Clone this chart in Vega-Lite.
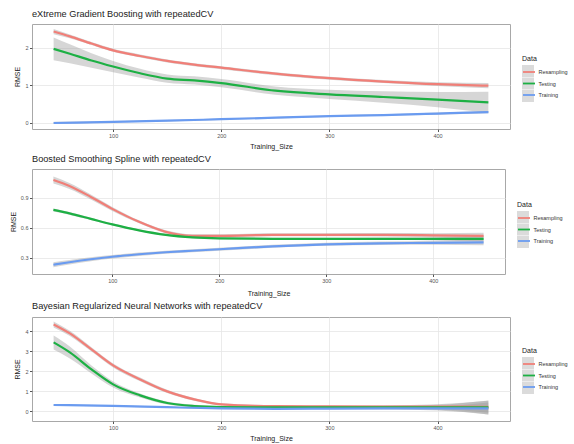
{
  "$schema": "https://vega.github.io/schema/vega-lite/v6.json",
  "padding": {"left": 8, "top": 9, "right": 2, "bottom": 2},
  "background": "white",
  "config": {
    "font": "Liberation Sans",
    "view": {"stroke": "#a8a8a8", "strokeWidth": 1},
    "title": {"anchor": "start", "frame": "group", "fontSize": 9.2, "fontWeight": "normal", "color": "#222222", "offset": 5},
    "axis": {"labelFontSize": 5.5, "labelColor": "#555555", "tickColor": "#555555", "tickSize": 2.5, "labelPadding": 1.5, "domain": false, "gridColor": "#e6e6e6", "gridWidth": 0.8, "titleFontSize": 7, "titleFontWeight": "normal", "titleColor": "#222222", "titlePadding": 4},
    "legend": {"titleFontSize": 7, "titleFontWeight": "normal", "titleColor": "#222222", "titlePadding": 3, "labelFontSize": 5.5, "labelColor": "#333333", "labelOffset": 2.5, "symbolSize": 144, "rowPadding": 0.5, "orient": "none"}
  },
  "resolve": {"scale": {"color": "independent", "fill": "independent"}, "legend": {"color": "independent", "fill": "independent"}},
  "datasets": {
    "xgb": [
      {"Training_Size": 45, "Data": "Resampling", "RMSE": 2.43, "lo": 2.36, "hi": 2.50},
      {"Training_Size": 60, "Data": "Resampling", "RMSE": 2.30, "lo": 2.25, "hi": 2.35},
      {"Training_Size": 80, "Data": "Resampling", "RMSE": 2.11, "lo": 2.07, "hi": 2.15},
      {"Training_Size": 100, "Data": "Resampling", "RMSE": 1.93, "lo": 1.89, "hi": 1.97},
      {"Training_Size": 125, "Data": "Resampling", "RMSE": 1.78, "lo": 1.74, "hi": 1.82},
      {"Training_Size": 150, "Data": "Resampling", "RMSE": 1.65, "lo": 1.61, "hi": 1.69},
      {"Training_Size": 175, "Data": "Resampling", "RMSE": 1.55, "lo": 1.51, "hi": 1.59},
      {"Training_Size": 200, "Data": "Resampling", "RMSE": 1.47, "lo": 1.43, "hi": 1.51},
      {"Training_Size": 250, "Data": "Resampling", "RMSE": 1.31, "lo": 1.27, "hi": 1.35},
      {"Training_Size": 300, "Data": "Resampling", "RMSE": 1.19, "lo": 1.15, "hi": 1.23},
      {"Training_Size": 350, "Data": "Resampling", "RMSE": 1.10, "lo": 1.06, "hi": 1.14},
      {"Training_Size": 400, "Data": "Resampling", "RMSE": 1.03, "lo": 0.98, "hi": 1.08},
      {"Training_Size": 447, "Data": "Resampling", "RMSE": 0.99, "lo": 0.92, "hi": 1.06},
      {"Training_Size": 45, "Data": "Testing", "RMSE": 1.97, "lo": 1.67, "hi": 2.27},
      {"Training_Size": 60, "Data": "Testing", "RMSE": 1.84, "lo": 1.59, "hi": 2.09},
      {"Training_Size": 80, "Data": "Testing", "RMSE": 1.66, "lo": 1.47, "hi": 1.85},
      {"Training_Size": 100, "Data": "Testing", "RMSE": 1.50, "lo": 1.35, "hi": 1.65},
      {"Training_Size": 125, "Data": "Testing", "RMSE": 1.32, "lo": 1.20, "hi": 1.44},
      {"Training_Size": 150, "Data": "Testing", "RMSE": 1.18, "lo": 1.07, "hi": 1.29},
      {"Training_Size": 175, "Data": "Testing", "RMSE": 1.13, "lo": 1.02, "hi": 1.24},
      {"Training_Size": 200, "Data": "Testing", "RMSE": 1.06, "lo": 0.95, "hi": 1.17},
      {"Training_Size": 250, "Data": "Testing", "RMSE": 0.86, "lo": 0.75, "hi": 0.97},
      {"Training_Size": 300, "Data": "Testing", "RMSE": 0.76, "lo": 0.64, "hi": 0.88},
      {"Training_Size": 350, "Data": "Testing", "RMSE": 0.69, "lo": 0.54, "hi": 0.84},
      {"Training_Size": 400, "Data": "Testing", "RMSE": 0.62, "lo": 0.42, "hi": 0.82},
      {"Training_Size": 447, "Data": "Testing", "RMSE": 0.55, "lo": 0.27, "hi": 0.83},
      {"Training_Size": 45, "Data": "Training", "RMSE": 0.00, "lo": -0.03, "hi": 0.03},
      {"Training_Size": 100, "Data": "Training", "RMSE": 0.03, "lo": 0.01, "hi": 0.05},
      {"Training_Size": 150, "Data": "Training", "RMSE": 0.06, "lo": 0.04, "hi": 0.08},
      {"Training_Size": 200, "Data": "Training", "RMSE": 0.10, "lo": 0.08, "hi": 0.12},
      {"Training_Size": 250, "Data": "Training", "RMSE": 0.14, "lo": 0.12, "hi": 0.16},
      {"Training_Size": 300, "Data": "Training", "RMSE": 0.18, "lo": 0.16, "hi": 0.20},
      {"Training_Size": 350, "Data": "Training", "RMSE": 0.21, "lo": 0.19, "hi": 0.23},
      {"Training_Size": 400, "Data": "Training", "RMSE": 0.25, "lo": 0.22, "hi": 0.28},
      {"Training_Size": 447, "Data": "Training", "RMSE": 0.29, "lo": 0.26, "hi": 0.32}
    ],
    "bss": [
      {"Training_Size": 45, "Data": "Resampling", "RMSE": 1.08, "lo": 1.045, "hi": 1.115},
      {"Training_Size": 60, "Data": "Resampling", "RMSE": 1.02, "lo": 0.99, "hi": 1.05},
      {"Training_Size": 80, "Data": "Resampling", "RMSE": 0.91, "lo": 0.885, "hi": 0.935},
      {"Training_Size": 100, "Data": "Resampling", "RMSE": 0.79, "lo": 0.77, "hi": 0.81},
      {"Training_Size": 125, "Data": "Resampling", "RMSE": 0.66, "lo": 0.645, "hi": 0.675},
      {"Training_Size": 150, "Data": "Resampling", "RMSE": 0.56, "lo": 0.545, "hi": 0.575},
      {"Training_Size": 175, "Data": "Resampling", "RMSE": 0.52, "lo": 0.505, "hi": 0.535},
      {"Training_Size": 200, "Data": "Resampling", "RMSE": 0.52, "lo": 0.505, "hi": 0.535},
      {"Training_Size": 250, "Data": "Resampling", "RMSE": 0.53, "lo": 0.515, "hi": 0.545},
      {"Training_Size": 300, "Data": "Resampling", "RMSE": 0.53, "lo": 0.515, "hi": 0.545},
      {"Training_Size": 350, "Data": "Resampling", "RMSE": 0.53, "lo": 0.513, "hi": 0.547},
      {"Training_Size": 400, "Data": "Resampling", "RMSE": 0.525, "lo": 0.505, "hi": 0.545},
      {"Training_Size": 447, "Data": "Resampling", "RMSE": 0.52, "lo": 0.49, "hi": 0.55},
      {"Training_Size": 45, "Data": "Testing", "RMSE": 0.78, "lo": 0.765, "hi": 0.795},
      {"Training_Size": 60, "Data": "Testing", "RMSE": 0.745, "lo": 0.732, "hi": 0.758},
      {"Training_Size": 80, "Data": "Testing", "RMSE": 0.69, "lo": 0.678, "hi": 0.702},
      {"Training_Size": 100, "Data": "Testing", "RMSE": 0.635, "lo": 0.625, "hi": 0.645},
      {"Training_Size": 125, "Data": "Testing", "RMSE": 0.575, "lo": 0.565, "hi": 0.585},
      {"Training_Size": 150, "Data": "Testing", "RMSE": 0.53, "lo": 0.52, "hi": 0.54},
      {"Training_Size": 175, "Data": "Testing", "RMSE": 0.505, "lo": 0.495, "hi": 0.515},
      {"Training_Size": 200, "Data": "Testing", "RMSE": 0.495, "lo": 0.485, "hi": 0.505},
      {"Training_Size": 250, "Data": "Testing", "RMSE": 0.49, "lo": 0.48, "hi": 0.50},
      {"Training_Size": 300, "Data": "Testing", "RMSE": 0.49, "lo": 0.48, "hi": 0.50},
      {"Training_Size": 350, "Data": "Testing", "RMSE": 0.49, "lo": 0.478, "hi": 0.502},
      {"Training_Size": 400, "Data": "Testing", "RMSE": 0.49, "lo": 0.475, "hi": 0.505},
      {"Training_Size": 447, "Data": "Testing", "RMSE": 0.49, "lo": 0.465, "hi": 0.515},
      {"Training_Size": 45, "Data": "Training", "RMSE": 0.23, "lo": 0.205, "hi": 0.255},
      {"Training_Size": 60, "Data": "Training", "RMSE": 0.255, "lo": 0.233, "hi": 0.277},
      {"Training_Size": 80, "Data": "Training", "RMSE": 0.285, "lo": 0.265, "hi": 0.305},
      {"Training_Size": 100, "Data": "Training", "RMSE": 0.31, "lo": 0.292, "hi": 0.328},
      {"Training_Size": 125, "Data": "Training", "RMSE": 0.335, "lo": 0.318, "hi": 0.352},
      {"Training_Size": 150, "Data": "Training", "RMSE": 0.355, "lo": 0.339, "hi": 0.371},
      {"Training_Size": 175, "Data": "Training", "RMSE": 0.37, "lo": 0.355, "hi": 0.385},
      {"Training_Size": 200, "Data": "Training", "RMSE": 0.385, "lo": 0.37, "hi": 0.40},
      {"Training_Size": 250, "Data": "Training", "RMSE": 0.415, "lo": 0.40, "hi": 0.43},
      {"Training_Size": 300, "Data": "Training", "RMSE": 0.435, "lo": 0.42, "hi": 0.45},
      {"Training_Size": 350, "Data": "Training", "RMSE": 0.445, "lo": 0.428, "hi": 0.462},
      {"Training_Size": 400, "Data": "Training", "RMSE": 0.45, "lo": 0.43, "hi": 0.47},
      {"Training_Size": 447, "Data": "Training", "RMSE": 0.455, "lo": 0.425, "hi": 0.485}
    ],
    "brnn": [
      {"Training_Size": 45, "Data": "Resampling", "RMSE": 4.35, "lo": 4.2, "hi": 4.5},
      {"Training_Size": 60, "Data": "Resampling", "RMSE": 3.9, "lo": 3.77, "hi": 4.03},
      {"Training_Size": 80, "Data": "Resampling", "RMSE": 3.1, "lo": 2.99, "hi": 3.21},
      {"Training_Size": 100, "Data": "Resampling", "RMSE": 2.3, "lo": 2.2, "hi": 2.4},
      {"Training_Size": 125, "Data": "Resampling", "RMSE": 1.6, "lo": 1.51, "hi": 1.69},
      {"Training_Size": 150, "Data": "Resampling", "RMSE": 1.0, "lo": 0.92, "hi": 1.08},
      {"Training_Size": 175, "Data": "Resampling", "RMSE": 0.6, "lo": 0.53, "hi": 0.67},
      {"Training_Size": 200, "Data": "Resampling", "RMSE": 0.35, "lo": 0.29, "hi": 0.41},
      {"Training_Size": 250, "Data": "Resampling", "RMSE": 0.26, "lo": 0.21, "hi": 0.31},
      {"Training_Size": 300, "Data": "Resampling", "RMSE": 0.25, "lo": 0.2, "hi": 0.3},
      {"Training_Size": 350, "Data": "Resampling", "RMSE": 0.24, "lo": 0.17, "hi": 0.31},
      {"Training_Size": 400, "Data": "Resampling", "RMSE": 0.24, "lo": 0.12, "hi": 0.36},
      {"Training_Size": 447, "Data": "Resampling", "RMSE": 0.23, "lo": -0.07, "hi": 0.53},
      {"Training_Size": 45, "Data": "Testing", "RMSE": 3.45, "lo": 3.1, "hi": 3.8},
      {"Training_Size": 60, "Data": "Testing", "RMSE": 2.95, "lo": 2.65, "hi": 3.25},
      {"Training_Size": 80, "Data": "Testing", "RMSE": 2.1, "lo": 1.9, "hi": 2.3},
      {"Training_Size": 100, "Data": "Testing", "RMSE": 1.35, "lo": 1.2, "hi": 1.5},
      {"Training_Size": 125, "Data": "Testing", "RMSE": 0.8, "lo": 0.7, "hi": 0.9},
      {"Training_Size": 150, "Data": "Testing", "RMSE": 0.42, "lo": 0.34, "hi": 0.5},
      {"Training_Size": 175, "Data": "Testing", "RMSE": 0.27, "lo": 0.21, "hi": 0.33},
      {"Training_Size": 200, "Data": "Testing", "RMSE": 0.22, "lo": 0.17, "hi": 0.27},
      {"Training_Size": 250, "Data": "Testing", "RMSE": 0.2, "lo": 0.15, "hi": 0.25},
      {"Training_Size": 300, "Data": "Testing", "RMSE": 0.2, "lo": 0.15, "hi": 0.25},
      {"Training_Size": 350, "Data": "Testing", "RMSE": 0.2, "lo": 0.13, "hi": 0.27},
      {"Training_Size": 400, "Data": "Testing", "RMSE": 0.2, "lo": 0.07, "hi": 0.33},
      {"Training_Size": 447, "Data": "Testing", "RMSE": 0.2, "lo": -0.15, "hi": 0.55},
      {"Training_Size": 45, "Data": "Training", "RMSE": 0.32, "lo": 0.28, "hi": 0.36},
      {"Training_Size": 100, "Data": "Training", "RMSE": 0.28, "lo": 0.25, "hi": 0.31},
      {"Training_Size": 150, "Data": "Training", "RMSE": 0.21, "lo": 0.18, "hi": 0.24},
      {"Training_Size": 200, "Data": "Training", "RMSE": 0.15, "lo": 0.12, "hi": 0.18},
      {"Training_Size": 250, "Data": "Training", "RMSE": 0.13, "lo": 0.1, "hi": 0.16},
      {"Training_Size": 300, "Data": "Training", "RMSE": 0.14, "lo": 0.11, "hi": 0.17},
      {"Training_Size": 350, "Data": "Training", "RMSE": 0.15, "lo": 0.1, "hi": 0.2},
      {"Training_Size": 400, "Data": "Training", "RMSE": 0.15, "lo": 0.05, "hi": 0.25},
      {"Training_Size": 447, "Data": "Training", "RMSE": 0.15, "lo": -0.15, "hi": 0.45}
    ]
  },
  "vconcat": [
    {
      "title": {"text": "eXtreme Gradient Boosting with repeatedCV", "fontWeight": "normal"},
      "width": 478, "height": 105,
      "data": {"name": "xgb"},
      "resolve": {"axis": {"x": "independent", "y": "independent"}},
      "layer": [
        {
          "mark": {"type": "area", "interpolate": "monotone", "opacity": 0.4},
          "encoding": {
            "x": {"field": "Training_Size", "type": "quantitative", "scale": {"domain": [25, 467], "nice": false, "zero": false}, "axis": {"values": [100, 200, 300, 400], "title": "Training_Size"}},
            "y": {"field": "lo", "type": "quantitative", "scale": {"domain": [-0.16, 2.63], "nice": false, "zero": false}, "axis": {"values": [0, 1, 2], "title": "RMSE"}},
            "y2": {"field": "hi"},
            "fill": {"field": "Data", "type": "nominal", "scale": {"range": ["#999999", "#999999", "#999999"]}, "legend": {"title": null, "legendX": 490, "legendY": 41, "symbolType": "square", "symbolOpacity": 0.35, "symbolStrokeWidth": 0, "labelExpr": "''", "zindex": 0}}
          }
        },
        {
          "mark": {"type": "line", "interpolate": "monotone", "strokeWidth": 2.2},
          "encoding": {
            "x": {"field": "Training_Size", "type": "quantitative", "axis": {"values": [50, 150, 250, 350, 450], "gridColor": "#f2f2f2", "gridWidth": 0.6, "labels": false, "ticks": false, "title": null}},
            "y": {"field": "RMSE", "type": "quantitative", "axis": {"values": [0.5, 1.5, 2.5], "gridColor": "#f2f2f2", "gridWidth": 0.6, "labels": false, "ticks": false, "title": null}},
            "color": {"field": "Data", "type": "nominal", "scale": {"domain": ["Resampling", "Testing", "Training"], "range": ["#F07F78", "#1DB044", "#6A9BF0"]}, "legend": {"legendX": 490, "legendY": 31, "symbolType": "stroke", "symbolStrokeWidth": 1.8, "zindex": 1}}
          }
        }
      ]
    },
    {
      "title": {"text": "Boosted Smoothing Spline with repeatedCV", "fontWeight": "normal"},
      "width": 473, "height": 105,
      "data": {"name": "bss"},
      "resolve": {"axis": {"x": "independent", "y": "independent"}},
      "layer": [
        {
          "mark": {"type": "area", "interpolate": "monotone", "opacity": 0.4},
          "encoding": {
            "x": {"field": "Training_Size", "type": "quantitative", "scale": {"domain": [25, 467], "nice": false, "zero": false}, "axis": {"values": [100, 200, 300, 400], "title": "Training_Size", "titlePadding": 6}},
            "y": {"field": "lo", "type": "quantitative", "scale": {"domain": [0.137, 1.19], "nice": false, "zero": false}, "axis": {"values": [0.3, 0.6, 0.9], "format": ".1f", "title": "RMSE"}},
            "y2": {"field": "hi"},
            "fill": {"field": "Data", "type": "nominal", "scale": {"range": ["#999999", "#999999", "#999999"]}, "legend": {"title": null, "legendX": 485, "legendY": 42, "symbolType": "square", "symbolOpacity": 0.35, "symbolStrokeWidth": 0, "labelExpr": "''", "zindex": 0}}
          }
        },
        {
          "mark": {"type": "line", "interpolate": "monotone", "strokeWidth": 2.2},
          "encoding": {
            "x": {"field": "Training_Size", "type": "quantitative", "axis": {"values": [50, 150, 250, 350, 450], "gridColor": "#f2f2f2", "gridWidth": 0.6, "labels": false, "ticks": false, "title": null}},
            "y": {"field": "RMSE", "type": "quantitative", "axis": {"values": [0.15, 0.45, 0.75, 1.05], "gridColor": "#f2f2f2", "gridWidth": 0.6, "labels": false, "ticks": false, "title": null}},
            "color": {"field": "Data", "type": "nominal", "scale": {"domain": ["Resampling", "Testing", "Training"], "range": ["#F07F78", "#1DB044", "#6A9BF0"]}, "legend": {"legendX": 485, "legendY": 32, "symbolType": "stroke", "symbolStrokeWidth": 1.8, "zindex": 1}}
          }
        }
      ]
    },
    {
      "title": {"text": "Bayesian Regularized Neural Networks with repeatedCV", "fontWeight": "normal", "offset": 6},
      "width": 478, "height": 104,
      "data": {"name": "brnn"},
      "resolve": {"axis": {"x": "independent", "y": "independent"}},
      "layer": [
        {
          "mark": {"type": "area", "interpolate": "monotone", "opacity": 0.4},
          "encoding": {
            "x": {"field": "Training_Size", "type": "quantitative", "scale": {"domain": [25, 467], "nice": false, "zero": false}, "axis": {"values": [100, 200, 300, 400], "title": "Training_Size"}},
            "y": {"field": "lo", "type": "quantitative", "scale": {"domain": [-0.48, 4.72], "nice": false, "zero": false}, "axis": {"values": [0, 1, 2, 3, 4], "title": "RMSE"}},
            "y2": {"field": "hi"},
            "fill": {"field": "Data", "type": "nominal", "scale": {"range": ["#999999", "#999999", "#999999"]}, "legend": {"title": null, "legendX": 490, "legendY": 40, "symbolType": "square", "symbolOpacity": 0.35, "symbolStrokeWidth": 0, "labelExpr": "''", "zindex": 0}}
          }
        },
        {
          "mark": {"type": "line", "interpolate": "monotone", "strokeWidth": 2.2},
          "encoding": {
            "x": {"field": "Training_Size", "type": "quantitative", "axis": {"values": [50, 150, 250, 350, 450], "gridColor": "#f2f2f2", "gridWidth": 0.6, "labels": false, "ticks": false, "title": null}},
            "y": {"field": "RMSE", "type": "quantitative", "axis": {"values": [0.5, 1.5, 2.5, 3.5, 4.5], "gridColor": "#f2f2f2", "gridWidth": 0.6, "labels": false, "ticks": false, "title": null}},
            "color": {"field": "Data", "type": "nominal", "scale": {"domain": ["Resampling", "Testing", "Training"], "range": ["#F07F78", "#1DB044", "#6A9BF0"]}, "legend": {"legendX": 490, "legendY": 30, "symbolType": "stroke", "symbolStrokeWidth": 1.8, "zindex": 1}}
          }
        }
      ]
    }
  ],
  "spacing": 4,
  "align": "none"
}
